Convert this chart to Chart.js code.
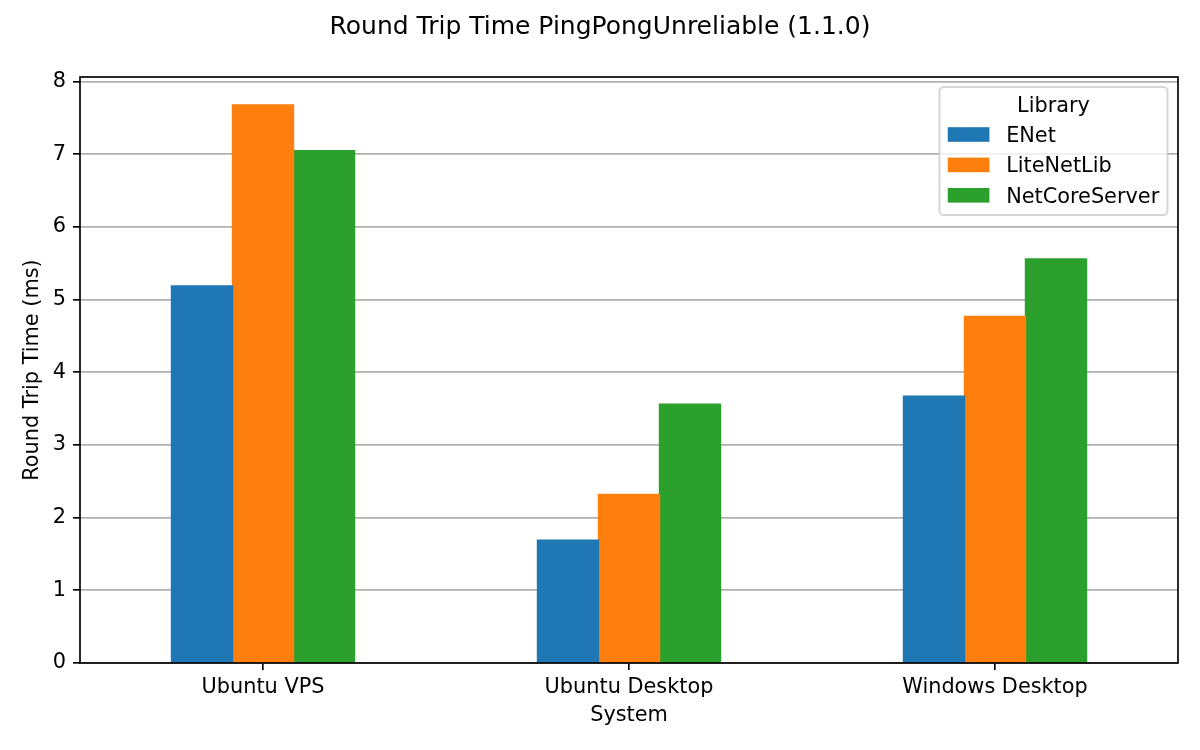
<!DOCTYPE html>
<html>
<head>
<meta charset="utf-8">
<title>Round Trip Time PingPongUnreliable (1.1.0)</title>
<script src="https://cdn.jsdelivr.net/npm/chart.js@4.4.0/dist/chart.umd.min.js"></script>
<style>
    body { margin: 0; background: #fff; }
    #chart-wrap { width: 1200px; height: 750px; }
</style>
</head>
<body>
<div id="chart-wrap">
    <canvas id="rttChart" width="1200" height="750"></canvas>
</div>
<script>
const systems = ['Ubuntu VPS', 'Ubuntu Desktop', 'Windows Desktop'];
const libraries = ['ENet', 'LiteNetLib', 'NetCoreServer'];
const enetRtt = [5.19, 1.69, 3.67];
const liteNetLibRtt = [7.68, 2.32, 4.77];
const netCoreServerRtt = [7.05, 3.56, 5.56];
const colors = ['#1f77b4', '#ff7f0e', '#2ca02c'];

const chartTitle = 'Round Trip Time PingPongUnreliable (1.1.0)';
const xTitle = 'System';
const yTitle = 'Round Trip Time (ms)';
const legendTitle = 'Library';

const FONT = 'DejaVu Sans';
const TICK_SIZE = 20.83;
const LINE_W = 1.67;

Chart.defaults.font.family = FONT;
Chart.defaults.color = '#000';

const series = [enetRtt, liteNetLibRtt, netCoreServerRtt];
// matplotlib style 5% headroom above the tallest bar
const yMax = Math.max(...series.flat()) * 1.05;

// full box around the plot, like the spines
const frameBox = {
    id: 'frameBox',
    afterDatasetsDraw(chart) {
        const { ctx, chartArea: a } = chart;
        ctx.save();
        ctx.strokeStyle = '#000';
        ctx.lineWidth = LINE_W;
        ctx.strokeRect(a.left, a.top, a.right - a.left, a.bottom - a.top);
        ctx.restore();
    }
};

// legend box with title, top right inside the plot
const boxLegend = {
    id: 'boxLegend',
    afterDraw(chart) {
        const { ctx, chartArea: a } = chart;
        const sets = chart.data.datasets;
        ctx.save();
        ctx.font = `${TICK_SIZE}px "${FONT}"`;
        const textW = Math.max(...sets.map(d => ctx.measureText(d.label).width));
        const w = 8.3 * 2 + 41.7 + 16.7 + textW;
        const h = 128;
        const right = a.right - 10.5;
        const top = a.top + 10;
        const left = right - w;

        ctx.beginPath();
        ctx.roundRect(left, top, w, h, 4.2);
        ctx.fillStyle = 'rgba(255,255,255,0.8)';
        ctx.fill();
        ctx.lineWidth = 2;
        ctx.strokeStyle = 'rgba(204,204,204,0.8)';
        ctx.stroke();

        ctx.fillStyle = '#000';
        ctx.textAlign = 'center';
        ctx.textBaseline = 'alphabetic';
        ctx.fillText(legendTitle, left + w / 2, top + 24.7);

        ctx.textAlign = 'left';
        sets.forEach((d, i) => {
            const cy = top + 47.5 + i * 30.4;
            ctx.fillStyle = d.backgroundColor;
            ctx.fillRect(left + 8.3, cy - 7.3, 41.7, 14.6);
            ctx.fillStyle = '#000';
            ctx.fillText(d.label, left + 66.7, cy + 7.5);
        });
        ctx.restore();
    }
};

const ctx = document.getElementById('rttChart').getContext('2d');
const rttChart = new Chart(ctx, {
    type: 'bar',
    data: {
        labels: systems,
        datasets: libraries.map((lib, i) => ({
            label: lib,
            data: series[i],
            backgroundColor: colors[i],
            borderWidth: 0,
            inflateAmount: 0.7,
            categoryPercentage: 0.5,
            barPercentage: 1.0
        }))
    },
    options: {
        responsive: false,
        animation: false,
        // symmetric side padding keeps the title centred on the page
        layout: { padding: { left: 22, right: 22, top: 0, bottom: 0 } },
        plugins: {
            legend: { display: false },
            tooltip: { enabled: false },
            title: {
                display: true,
                text: chartTitle,
                color: '#000',
                font: { size: 25, weight: 'normal', lineHeight: 1.2 },
                padding: { top: 12, bottom: 35 }
            }
        },
        scales: {
            x: {
                offset: true,
                border: { display: false },
                grid: {
                    display: true,
                    offset: false,
                    drawOnChartArea: false,
                    drawTicks: true,
                    tickLength: 7,
                    tickColor: '#000',
                    lineWidth: LINE_W
                },
                ticks: {
                    color: '#000',
                    font: { size: TICK_SIZE },
                    padding: 5,
                    maxRotation: 0,
                    autoSkip: false
                },
                title: {
                    display: true,
                    text: xTitle,
                    color: '#000',
                    font: { size: TICK_SIZE },
                    padding: { top: 0, bottom: 22 }
                },
                afterFit: (scale) => { scale.height = 87; }
            },
            y: {
                min: 0,
                max: yMax,
                border: { display: false },
                grid: {
                    color: '#b0b0b0',
                    tickColor: '#000',
                    tickLength: 7,
                    lineWidth: LINE_W
                },
                ticks: {
                    stepSize: 1,
                    includeBounds: false,
                    color: '#000',
                    font: { size: TICK_SIZE },
                    padding: 7
                },
                title: {
                    display: true,
                    text: yTitle,
                    color: '#000',
                    font: { size: TICK_SIZE, lineHeight: 1 },
                    padding: { top: 0, bottom: 0 }
                },
                afterFit: (scale) => { scale.width = 58; }
            }
        }
    },
    plugins: [frameBox, boxLegend]
});
</script>
</body>
</html>
